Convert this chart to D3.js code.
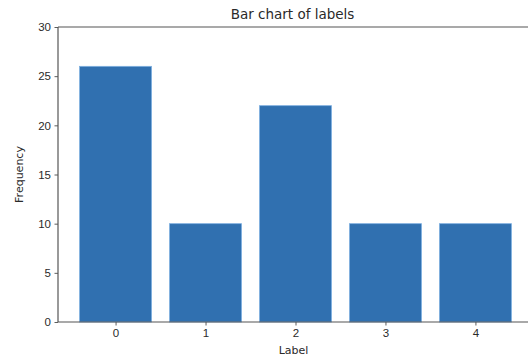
<!DOCTYPE html>
<html>
<head>
<meta charset="utf-8">
<script src="https://cdn.jsdelivr.net/npm/d3@7/dist/d3.min.js"></script>
<style>
  html, body { margin: 0; padding: 0; background: #fff; overflow: hidden; }
  svg { display: block; font-family: "DejaVu Sans", sans-serif; }
</style>
</head>
<body>
<svg id="chart" width="528" height="358"></svg>
<script>
// Label counts
const categories = [0, 1, 2, 3, 4];
const frequencies = [26, 10, 22, 10, 10];
const yTicks = [0, 5, 10, 15, 20, 25, 30];

const svg = d3.select("#chart");
const margin = { left: 58, top: 27, right: -5, bottom: 36 };
const W = 528, H = 358;
const plotW = W - margin.left - margin.right;
const plotH = H - margin.top - margin.bottom;

// linear x with matplotlib-style 5% padding around the bars
const x = d3.scaleLinear().domain([-0.64, 4.64]).range([0, plotW]);
const y = d3.scaleLinear().domain([0, 30]).range([plotH, 0]);
const barW = 0.8;

const g = svg.append("g").attr("transform", `translate(${margin.left},${margin.top})`);

// bars
g.selectAll("rect.bar")
  .data(categories.map((c, i) => ({ c, v: frequencies[i] })))
  .enter().append("rect")
  .attr("class", "bar")
  .attr("x", d => x(d.c - barW / 2))
  .attr("width", d => x(d.c + barW / 2) - x(d.c - barW / 2))
  .attr("y", d => y(d.v))
  .attr("height", d => y(0) - y(d.v))
  .attr("fill", "#3070b0")
  .attr("stroke", "#7eb0e0")
  .attr("stroke-width", 0.8);

// axes
const xAxis = d3.axisBottom(x).tickValues(categories).tickFormat(d3.format("d")).tickSize(3.5).tickPadding(3.5);
const yAxis = d3.axisLeft(y).tickValues(yTicks).tickSize(3.5).tickPadding(3.5);

const gx = g.append("g").attr("transform", `translate(0,${plotH})`).call(xAxis);
const gy = g.append("g").call(yAxis);

[gx, gy].forEach(a => {
  a.select(".domain").remove();
  a.selectAll(".tick line").attr("stroke", "#333").attr("stroke-width", 0.8);
  a.selectAll(".tick text").attr("fill", "#2a2a2a").style("font-size", "11.5px");
});

// spines (the right one falls just past the page edge)
const spine = (x1, y1, x2, y2) => g.append("line")
  .attr("x1", x1).attr("y1", y1).attr("x2", x2).attr("y2", y2)
  .attr("stroke", "#555").attr("stroke-width", 1.2);
spine(0, 0, 0, plotH);
spine(0, plotH, plotW, plotH);
spine(0, 0, plotW, 0);

// title and axis labels
g.append("text")
  .attr("x", plotW / 2 - 3).attr("y", -8)
  .attr("text-anchor", "middle")
  .attr("fill", "#2a2a2a")
  .style("font-size", "13.5px")
  .text("Bar chart of labels");

g.append("text")
  .attr("x", plotW / 2 - 2).attr("y", plotH + 32)
  .attr("text-anchor", "middle")
  .attr("fill", "#2a2a2a")
  .style("font-size", "11px")
  .text("Label");

g.append("text")
  .attr("transform", `translate(${-35},${plotH / 2}) rotate(-90)`)
  .attr("text-anchor", "middle")
  .attr("fill", "#2a2a2a")
  .style("font-size", "11px")
  .text("Frequency");
</script>
</body>
</html>
